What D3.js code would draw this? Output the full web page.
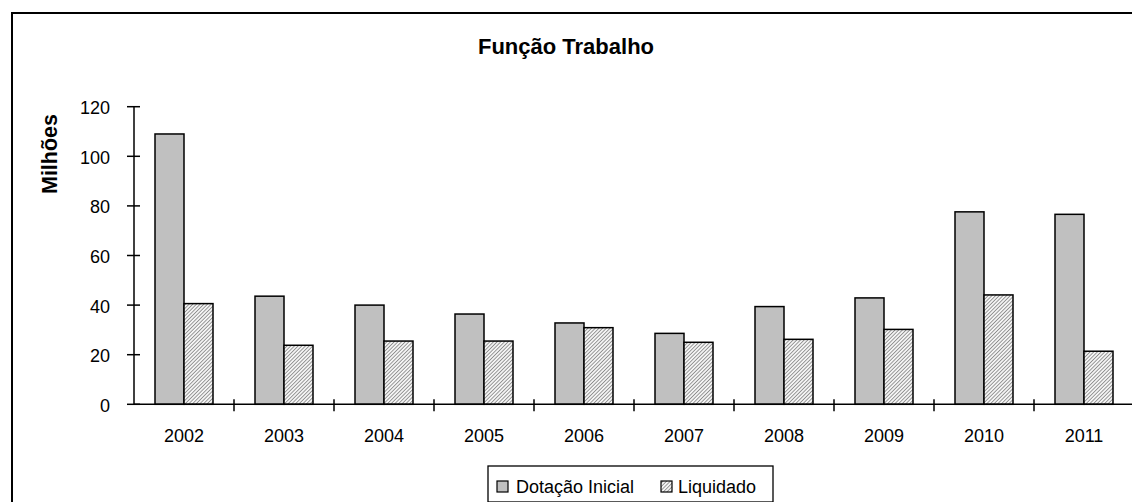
<!DOCTYPE html>
<html><head><meta charset="utf-8">
<script src="https://cdn.jsdelivr.net/npm/d3@7"></script>
<style>body{margin:0;background:#fff;} svg{display:block;font-family:"Liberation Sans",Arial,sans-serif;}</style>
</head><body>
<svg id="c" width="1132" height="502"></svg>
<script>
const years = ["2002","2003","2004","2005","2006","2007","2008","2009","2010","2011"];
const dotacao = [109, 43.6, 40.0, 36.4, 32.8, 28.6, 39.4, 42.9, 77.6, 76.6];
const liquidado = [40.6, 23.8, 25.5, 25.5, 30.9, 25.0, 26.2, 30.2, 44.1, 21.4];
const yTicks = [0, 20, 40, 60, 80, 100, 120];
const seriesNames = ["Dotação Inicial", "Liquidado"];
const title = "Função Trabalho";
const yTitle = "Milhões";

const svg = d3.select("#c");
const defs = svg.append("defs");
const pat = defs.append("pattern").attr("id","hatch").attr("patternUnits","userSpaceOnUse")
  .attr("width",2.6).attr("height",2.6).attr("patternTransform","rotate(45)");
pat.append("rect").attr("width",2.6).attr("height",2.6).attr("fill","#f4f4f4");
pat.append("line").attr("x1",0).attr("y1",0).attr("x2",0).attr("y2",2.6).attr("stroke","#6a6a6a").attr("stroke-width",1.3);

// outer frame
svg.append("rect").attr("x",12).attr("y",13).attr("width",1140).attr("height",510)
  .attr("fill","none").attr("stroke","#000").attr("stroke-width",2);

const x = d3.scaleBand().domain(years).range([134,1134]).paddingInner(0).paddingOuter(0);
const y = d3.scaleLinear().domain([0,120]).range([404.3,106.7]);

// bars
const data = years.map((yr,i)=>({yr, vals:[dotacao[i], liquidado[i]]}));
const g = svg.append("g");
const bw = 29;
data.forEach(d=>{
  d.vals.forEach((v,j)=>{
    const x0 = x(d.yr) + x.bandwidth()/2 - bw + j*bw;
    g.append("rect").attr("x",x0).attr("y",y(v)).attr("width",bw).attr("height",y(0)-y(v))
      .attr("fill", j===0 ? "#c0c0c0" : "url(#hatch)").attr("stroke","#000").attr("stroke-width",1.5);
  });
});

const tickFont = 18;
// y axis
const ya = svg.append("g");
ya.append("line").attr("x1",134).attr("x2",134).attr("y1",y(120)).attr("y2",y(0)).attr("stroke","#000").attr("stroke-width",1.5);
yTicks.forEach(t=>{
  ya.append("line").attr("x1",127).attr("x2",140).attr("y1",y(t)).attr("y2",y(t)).attr("stroke","#000").attr("stroke-width",1.5);
  ya.append("text").attr("x",110).attr("y",y(t)+7.5).attr("text-anchor","end").attr("font-size",tickFont).attr("fill","#000").text(t);
});
// x axis
const xa = svg.append("g");
xa.append("line").attr("x1",134).attr("x2",1134).attr("y1",y(0)).attr("y2",y(0)).attr("stroke","#000").attr("stroke-width",1.5);
years.forEach((yr,i)=>{
  const tx = x(yr) + x.bandwidth();
  xa.append("line").attr("x1",tx).attr("x2",tx).attr("y1",y(0)-5).attr("y2",y(0)+7).attr("stroke","#000").attr("stroke-width",1.5);
  xa.append("text").attr("x",x(yr)+x.bandwidth()/2).attr("y",442).attr("text-anchor","middle").attr("font-size",tickFont).attr("fill","#000").text(yr);
});

// titles
svg.append("text").attr("x",566).attr("y",54).attr("text-anchor","middle").attr("font-size",22).attr("font-weight","bold").text(title);
svg.append("text").attr("transform","translate(57,154) rotate(-90)").attr("text-anchor","middle").attr("font-size",21.5).attr("font-weight","bold").text(yTitle);

// legend
const lg = svg.append("g");
lg.append("rect").attr("x",488).attr("y",466).attr("width",285).attr("height",36).attr("fill","#fff").attr("stroke","#000").attr("stroke-width",1.3);
const items = [{name:seriesNames[0], fill:"#c0c0c0", sx:497, tx:516},{name:seriesNames[1], fill:"url(#hatch)", sx:661, tx:678}];
items.forEach(it=>{
  lg.append("rect").attr("x",it.sx).attr("y",481).attr("width",11).attr("height",11).attr("fill",it.fill).attr("stroke","#000").attr("stroke-width",1.2);
  lg.append("text").attr("x",it.tx).attr("y",492.5).attr("font-size",tickFont).attr("fill","#000").text(it.name);
});
</script>
</body></html>
